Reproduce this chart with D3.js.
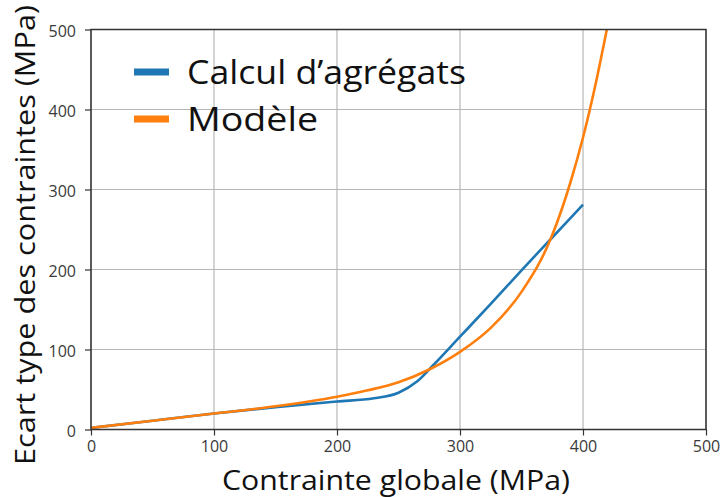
<!DOCTYPE html>
<html>
<head>
<meta charset="utf-8">
<script src="https://cdn.jsdelivr.net/npm/d3@7"></script>
<style>
  html, body { margin: 0; padding: 0; background: #fff; }
  svg { display: block; }
</style>
</head>
<body>
<svg id="chart" width="724" height="497"></svg>
<script>
// ---- Data ----
const seriesNames = ["Calcul d’agrégats", "Modèle"];
const calculX = [0, 50, 100, 150, 200, 230, 250, 265, 278, 300, 325, 350, 375, 400];
const calculY = [2, 11, 20, 28, 35, 39, 46, 60, 80, 116, 157, 199, 240, 281];
const modeleX = [0, 50, 100, 150, 200, 225, 250, 275, 300, 325, 350, 375, 390, 400, 410, 420];
const modeleY = [2, 11, 20, 29, 41, 49, 59, 75, 97, 127, 172, 243, 310, 365, 430, 505];
const xTicks = [0, 100, 200, 300, 400, 500];
const yTicks = [0, 100, 200, 300, 400, 500];
const xLabel = "Contrainte globale (MPa)";
const yLabel = "Ecart type des contraintes (MPa)";
const colors = ["#1f77b4", "#ff7f0e"];

// ---- Layout ----
const svg = d3.select("#chart");
const pLeft = 91, pRight = 706, pTop = 29.5, pBottom = 429.5;
const x = d3.scaleLinear().domain([0, 500]).range([pLeft, pRight]);
const y = d3.scaleLinear().domain([0, 500]).range([pBottom, pTop]);

const defs = svg.append("defs");
defs.append("clipPath").attr("id", "clip")
  .append("rect").attr("x", pLeft).attr("y", pTop).attr("width", pRight - pLeft).attr("height", pBottom - pTop);

// grid
const grid = svg.append("g");
grid.selectAll("line.vx").data(xTicks).join("line")
  .attr("x1", d => x(d)).attr("x2", d => x(d)).attr("y1", pTop).attr("y2", pBottom)
  .attr("stroke", "#b7b7b7").attr("stroke-width", 1.2);
grid.selectAll("line.hy").data(yTicks).join("line")
  .attr("y1", d => y(d)).attr("y2", d => y(d)).attr("x1", pLeft).attr("x2", pRight)
  .attr("stroke", "#b7b7b7").attr("stroke-width", 1.2);

// axes
const tickFont = "'Open Sans', sans-serif";
const xAxis = svg.append("g").attr("transform", `translate(0,${pBottom})`)
  .call(d3.axisBottom(x).tickValues(xTicks).tickSize(6).tickSizeOuter(0).tickPadding(5));
const yAxis = svg.append("g").attr("transform", `translate(${pLeft},0)`)
  .call(d3.axisLeft(y).tickValues(yTicks).tickSize(6).tickSizeOuter(0).tickPadding(9));
[xAxis, yAxis].forEach(g => {
  g.select(".domain").remove();
  g.selectAll(".tick line").attr("stroke", "#333").attr("stroke-width", 1.2);
  g.selectAll(".tick text").attr("fill", "#3a3a3a").style("font-family", tickFont).style("font-size", "16px");
});
yAxis.selectAll(".tick text").attr("dy", "0.45em");

// lines
const lineGen = d3.line().x(d => x(d[0])).y(d => y(d[1])).curve(d3.curveMonotoneX);
const calcul = calculX.map((v, i) => [v, calculY[i]]);
const modele = modeleX.map((v, i) => [v, modeleY[i]]);
const plot = svg.append("g").attr("clip-path", "url(#clip)");
[calcul, modele].forEach((data, i) => {
  plot.append("path").datum(data).attr("d", lineGen)
    .attr("fill", "none").attr("stroke", colors[i]).attr("stroke-width", 2.6)
    .attr("stroke-linejoin", "round");
});

// frame
svg.append("rect").attr("x", pLeft).attr("y", pTop).attr("width", pRight - pLeft).attr("height", pBottom - pTop)
  .attr("fill", "none").attr("stroke", "#333").attr("stroke-width", 1.5);

// legend
const bigFont = "'Open Sans', sans-serif";
const leg = svg.append("g");
const legY = [72, 119];
const legW = [279, 131];
seriesNames.forEach((name, i) => {
  leg.append("line").attr("x1", 134).attr("x2", 169).attr("y1", legY[i]).attr("y2", legY[i])
    .attr("stroke", colors[i]).attr("stroke-width", 7);
  leg.append("text").attr("x", 187).attr("y", legY[i] + 12)
    .attr("fill", "#111").style("font-family", bigFont).style("font-size", "32px")
    .attr("textLength", legW[i]).attr("lengthAdjust", "spacingAndGlyphs")
    .text(name);
});

// axis labels
svg.append("text").attr("x", 396).attr("y", 490).attr("text-anchor", "middle")
  .attr("fill", "#111").style("font-family", bigFont).style("font-size", "28px")
  .attr("textLength", 348).attr("lengthAdjust", "spacingAndGlyphs").text(xLabel);
svg.append("text").attr("transform", `translate(35,${(5 + 465) / 2}) rotate(-90)`).attr("text-anchor", "middle")
  .attr("fill", "#111").style("font-family", bigFont).style("font-size", "27px")
  .attr("textLength", 460).attr("lengthAdjust", "spacingAndGlyphs").text(yLabel);
</script>
</body>
</html>
